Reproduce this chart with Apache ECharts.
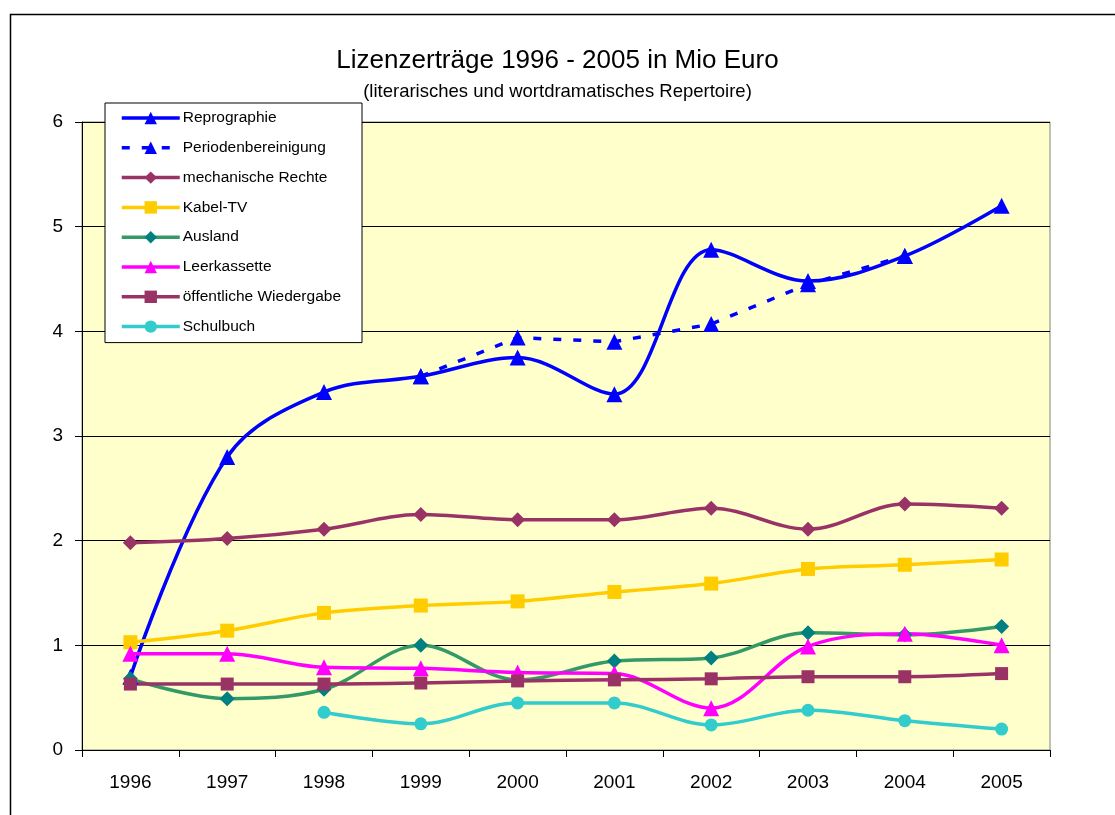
<!DOCTYPE html>
<html>
<head>
<meta charset="utf-8">
<script src="https://cdn.jsdelivr.net/npm/echarts@6/dist/echarts.min.js"></script>
<style>
html,body{margin:0;padding:0;background:#fff;}
#chart{width:1115px;height:815px;}
</style>
</head>
<body>
<div id="chart"></div>
<script>
const years = ['1996','1997','1998','1999','2000','2001','2002','2003','2004','2005'];
const yTicks = [0,1,2,3,4,5,6];
const reprographie = [0.70, 2.80, 3.42, 3.57, 3.75, 3.40, 4.78, 4.48, 4.72, 5.20];
const periodenbereinigung = [null, null, null, 3.57, 3.94, 3.90, 4.07, 4.45, 4.72, null];
const mechanischeRechte = [1.98, 2.02, 2.11, 2.25, 2.20, 2.20, 2.31, 2.11, 2.35, 2.31];
const kabelTV = [1.03, 1.14, 1.31, 1.38, 1.42, 1.51, 1.59, 1.73, 1.77, 1.82];
const ausland = [0.68, 0.49, 0.58, 1.00, 0.67, 0.85, 0.88, 1.12, 1.10, 1.18];
const leerkassette = [0.92, 0.92, 0.79, 0.78, 0.74, 0.73, 0.40, 0.99, 1.11, 1.00];
const oeffentlicheWiedergabe = [0.63, 0.63, 0.63, 0.64, 0.66, 0.67, 0.68, 0.70, 0.70, 0.73];
const schulbuch = [null, null, 0.36, 0.25, 0.45, 0.45, 0.24, 0.38, 0.28, 0.20];

const FONT = '"Liberation Sans", Arial, sans-serif';
const chart = echarts.init(document.getElementById('chart'));

function lineSeries(name, data, color, symbol, size, extra) {
  return Object.assign({
    name: name, type: 'line', data: data, smooth: 0.35,
    symbol: symbol, symbolSize: size, showSymbol: true,
    lineStyle: {color: color, width: 3.5},
    itemStyle: {color: color},
    connectNulls: false, animation: false
  }, extra || {});
}

chart.setOption({
  animation: false,
  backgroundColor: '#ffffff',
  graphic: [{
    type: 'rect', left: 8, top: 12, silent: true,
    shape: {x: 0, y: 0, width: 1200, height: 900},
    style: {fill: 'none', stroke: '#000', lineWidth: 1.5}
  }],
  title: [
    {text: 'Lizenzerträge 1996 - 2005 in Mio Euro', left: 'center', top: 43,
     textStyle: {fontFamily: FONT, fontSize: 26, fontWeight: 'normal', color: '#000'}},
    {text: '(literarisches und wortdramatisches Repertoire)', left: 'center', top: 77,
     textStyle: {fontFamily: FONT, fontSize: 18.5, fontWeight: 'normal', color: '#000'}}
  ],
  legend: {
    orient: 'vertical', left: 105, top: 103,
    backgroundColor: '#fff', borderColor: '#000', borderWidth: 1,
    padding: [7, 21, 8, 15],
    itemWidth: 58, itemHeight: 15.5, itemGap: 13.8,
    lineStyle: {width: 3.5},
    textStyle: {fontFamily: FONT, fontSize: 15.5, color: '#000', padding: [0,0,0,-2]},
    data: ['Reprographie','Periodenbereinigung','mechanische Rechte','Kabel-TV','Ausland','Leerkassette','öffentliche Wiedergabe','Schulbuch']
  },
  grid: {left: 82, right: 65, top: 122, bottom: 65, show: true,
         backgroundColor: '#FFFFCC', borderColor: '#808080', borderWidth: 1},
  xAxis: {
    type: 'category', data: years, boundaryGap: true,
    axisLine: {lineStyle: {color: '#000', width: 1}},
    axisTick: {show: true, length: 7, lineStyle: {color: '#000'}},
    axisLabel: {fontFamily: FONT, fontSize: 19, color: '#000', margin: 23},
    splitLine: {show: false}
  },
  yAxis: {
    type: 'value', min: yTicks[0], max: yTicks[yTicks.length-1], interval: 1,
    axisLine: {show: true, lineStyle: {color: '#000', width: 1}},
    axisTick: {show: true, length: 7, lineStyle: {color: '#000'}},
    axisLabel: {fontFamily: FONT, fontSize: 19, color: '#000', margin: 19},
    splitLine: {show: true, lineStyle: {color: '#000', width: 1}}
  },
  series: [
    lineSeries('Reprographie', reprographie, '#0000FF', 'triangle', 16),
    lineSeries('Periodenbereinigung', periodenbereinigung, '#0000FF', 'triangle', 16,
      {smooth: false, lineStyle: {color: '#0000FF', width: 3.5, type: [8, 12]}}),
    lineSeries('mechanische Rechte', mechanischeRechte, '#993366', 'diamond', 15),
    lineSeries('Kabel-TV', kabelTV, '#FFCC00', 'rect', 14),
    lineSeries('Ausland', ausland, '#339966', 'diamond', 15, {itemStyle: {color: '#008080'}}),
    lineSeries('Leerkassette', leerkassette, '#FF00FF', 'triangle', 16),
    lineSeries('öffentliche Wiedergabe', oeffentlicheWiedergabe, '#993366', 'rect', 13),
    lineSeries('Schulbuch', schulbuch, '#33CCCC', 'circle', 13)
  ]
});
</script>
</body>
</html>
